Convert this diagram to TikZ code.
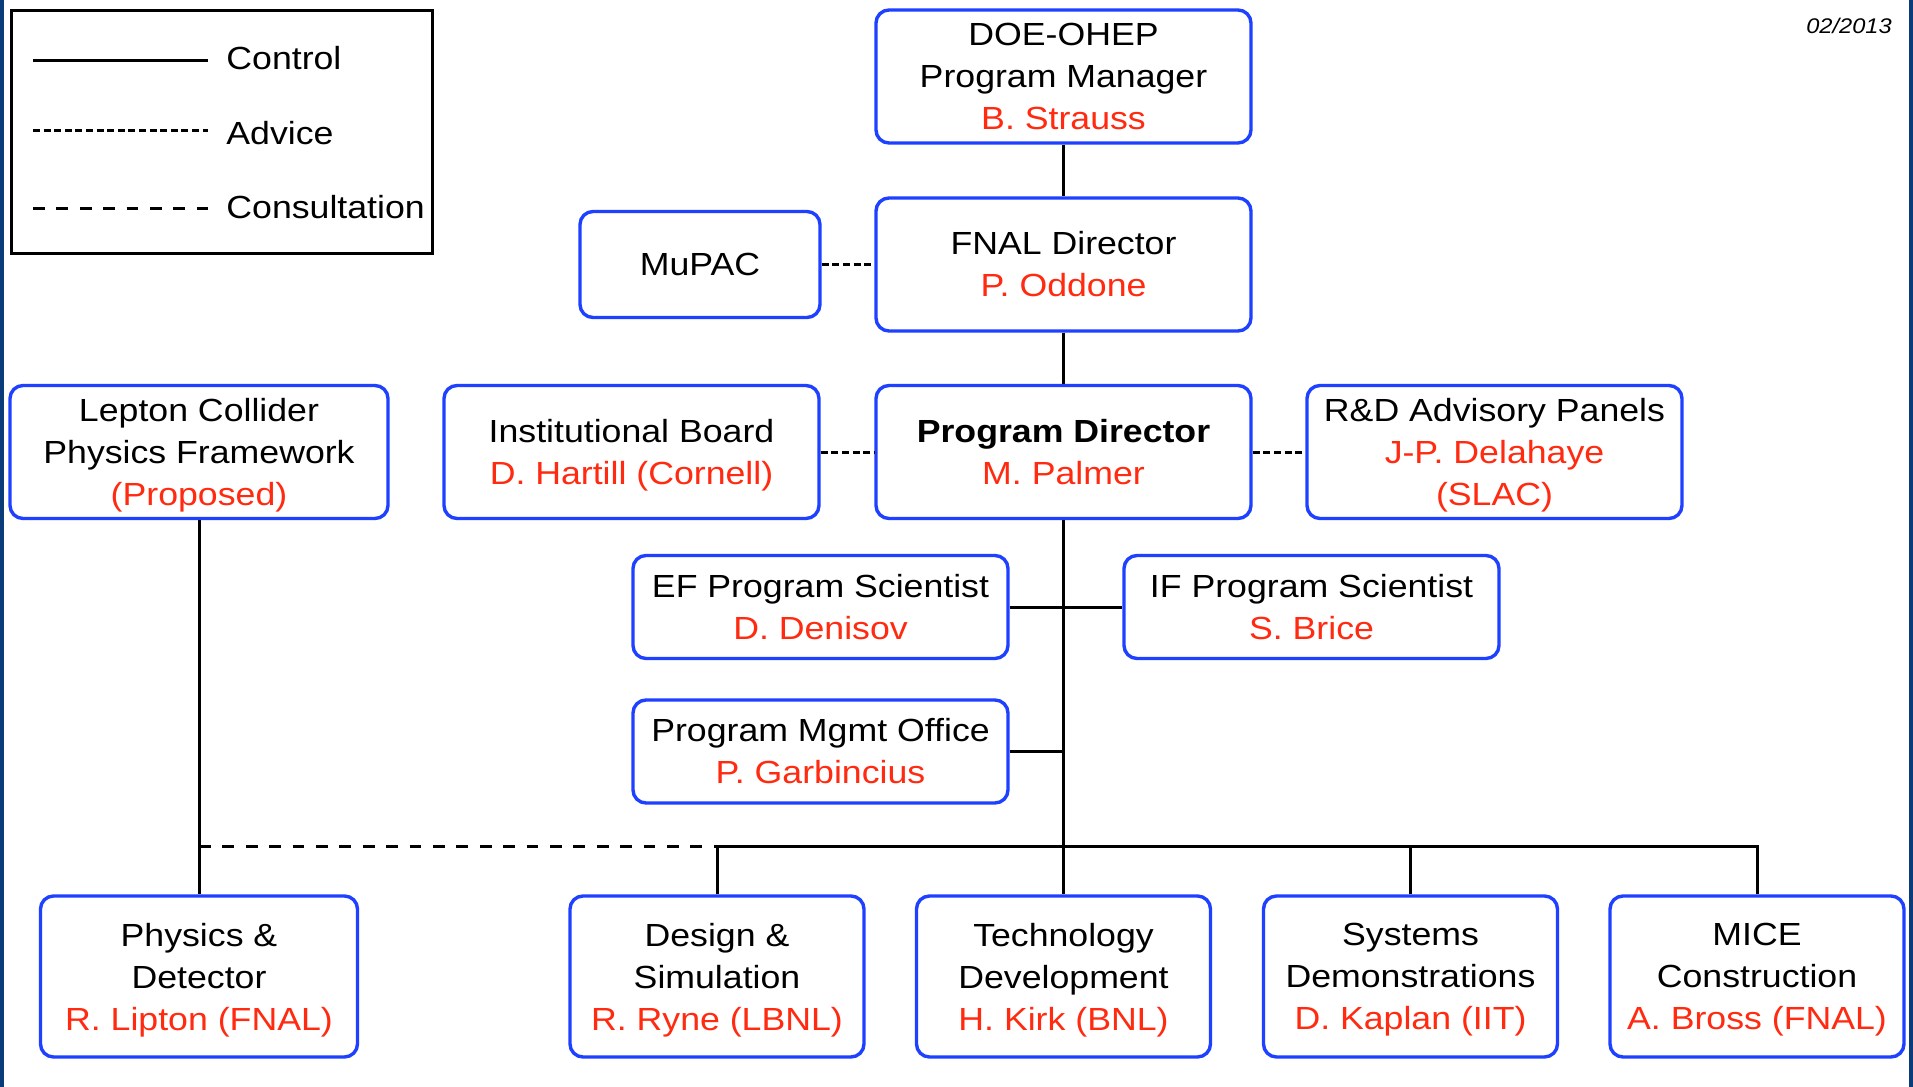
\documentclass[tikz,border=0pt]{standalone}
\usepackage{fontspec}
\setmainfont{Liberation Sans}[FakeStretch=1.115]
\definecolor{myblue}{RGB}{30,64,255}
\definecolor{myred}{RGB}{255,42,15}
\definecolor{edgeblue}{RGB}{10,60,122}
\tikzset{
  box/.style={draw=myblue, line width=1.7pt, rounded corners=6.5pt, fill=white,
    align=center, inner sep=0pt, font=\fontsize{16}{21}\selectfont},
  wide/.style={minimum width=187.5pt, minimum height=66.5pt},
  mid/.style={minimum width=187.5pt, minimum height=51.5pt},
  low/.style={minimum width=147pt, minimum height=80.5pt},
  ctrl/.style={line width=1.5pt},
  advice/.style={line width=1.5pt, dash pattern=on 3.5pt off 1.8pt},
  consult/.style={line width=1.5pt, dash pattern=on 5.85pt off 5.85pt},
  legtext/.style={anchor=base west, inner sep=0pt, font=\fontsize{16}{21}\selectfont},
}
\newcommand{\rd}[1]{\textcolor{myred}{#1}}
\newcommand{\rdn}[1]{\textcolor{myred}{\raisebox{0pt}[\height][0pt]{#1}}}
\begin{document}
\begin{tikzpicture}[x=0.5pt,y=-0.5pt]
\useasboundingbox (0,0) rectangle (1913,1087);
\fill[white] (0,0) rectangle (1913,1087);
\fill[edgeblue] (0,0) rectangle (4,1087);
\fill[edgeblue] (1909,0) rectangle (1913,1087);

% legend
\draw[line width=1.5pt] (11,10) rectangle (432,253);
\coordinate (l1a) at (33,60); \coordinate (l1b) at (208,60);
\coordinate (l2a) at (33,130); \coordinate (l2b) at (208,130);
\coordinate (l3a) at (33,208); \coordinate (l3b) at (208,208);
\draw[ctrl] (l1a) -- (l1b);
\draw[advice] (l2a) -- (l2b);
\draw[consult] (l3a) -- (l3b);
\node[legtext] (lc) at (226,69) {Control};
\node[legtext] (la) at (226,144) {Advice};
\node[legtext] (lo) at (226,218) {Consultation};

% date
\node[inner sep=0pt, font=\fontsize{10.6}{13}\itshape] (date) at (1849,26) {02/2013};

% boxes
\node[box, wide] (doe) at (1063.5,76.5) {DOE-OHEP\\Program Manager\\\rd{B. Strauss}};
\node[box, minimum width=120pt, minimum height=53pt] (mupac) at (700,264.5) {MuPAC};
\node[box, wide] (fnal) at (1063.5,264.5) {FNAL Director\\\rd{P. Oddone}};
\node[box, minimum width=189pt, minimum height=66.5pt] (lepton) at (199,452) {Lepton Collider\\Physics Framework\\\rdn{(Proposed)}};
\node[box, wide] (inst) at (631.5,452) {Institutional Board\\\rdn{D. Hartill (Cornell)}};
\node[box, wide] (pd) at (1063.5,452) {\textbf{Program Director}\\\rd{M. Palmer}};
\node[box, wide] (rdp) at (1494.5,452) {R\&D Advisory Panels\\\rd{J-P. Delahaye}\\\rdn{(SLAC)}};
\node[box, mid] (ef) at (820.5,607) {EF Program Scientist\\\rd{D. Denisov}};
\node[box, mid] (if) at (1311.5,607) {IF Program Scientist\\\rd{S. Brice}};
\node[box, mid] (pmo) at (820.5,751.5) {Program Mgmt Office\\\rd{P. Garbincius}};
\node[box, minimum width=158.5pt, minimum height=80.5pt] (phys) at (199,976.5) {Physics \&\\Detector\\\rdn{R. Lipton (FNAL)}};
\node[box, low] (design) at (717,976.5) {Design \&\\Simulation\\\rdn{R. Ryne (LBNL)}};
\node[box, low] (tech) at (1063.5,976.5) {Technology\\Development\\\rdn{H. Kirk (BNL)}};
\node[box, low] (sys) at (1410.5,976.5) {Systems\\Demonstrations\\\rdn{D. Kaplan (IIT)}};
\node[box, low] (mice) at (1757,976.5) {MICE\\Construction\\\rdn{A. Bross (FNAL)}};

% connectors
\coordinate (bus) at (1063.5,846);
\draw[ctrl] (doe.south) -- (fnal.north);
\draw[ctrl] (fnal.south) -- (pd.north);
\draw[advice] (mupac.east) -- (fnal.west);
\draw[advice] (inst.east) -- (pd.west);
\draw[advice] (pd.east) -- (rdp.west);
\draw[ctrl] (pd.south) -- (tech.north);
\draw[ctrl] (ef.east) -- (if.west);
\draw[ctrl] (pmo.east) -- (pmo.east -| pd.south);
\draw[ctrl] (lepton.south) -- (phys.north);
\draw[ctrl] (design.north) -- (design.north |- bus) -- (mice.north |- bus) -- (mice.north);
\draw[ctrl] (sys.north) -- (sys.north |- bus);
\draw[consult] (phys.north |- bus) -- (design.north |- bus);
\end{tikzpicture}
\end{document}
